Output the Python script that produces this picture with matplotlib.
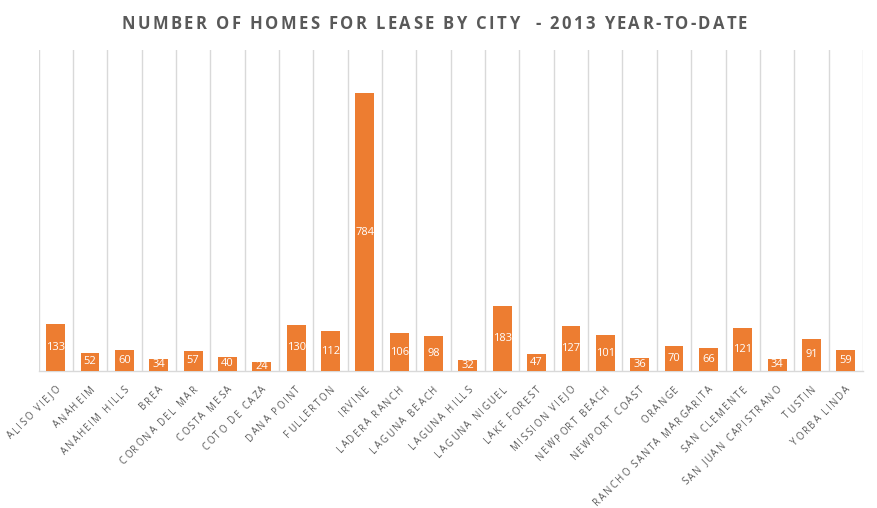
import matplotlib
matplotlib.use("Agg")
import matplotlib.pyplot as plt
import numpy as np

# Data
cities = ["ALISO VIEJO", "ANAHEIM", "ANAHEIM HILLS", "BREA", "CORONA DEL MAR",
          "COSTA MESA", "COTO DE CAZA", "DANA POINT", "FULLERTON", "IRVINE",
          "LADERA RANCH", "LAGUNA BEACH", "LAGUNA HILLS", "LAGUNA NIGUEL",
          "LAKE FOREST", "MISSION VIEJO", "NEWPORT BEACH", "NEWPORT COAST",
          "ORANGE", "RANCHO SANTA MARGARITA", "SAN CLEMENTE",
          "SAN JUAN CAPISTRANO", "TUSTIN", "YORBA LINDA"]
homes = [133, 52, 60, 34, 57, 40, 24, 130, 112, 784, 106, 98, 32, 183,
         47, 127, 101, 36, 70, 66, 121, 34, 91, 59]

title = "NUMBER OF HOMES FOR LEASE BY CITY  - 2013 YEAR-TO-DATE"

bar_color = "#ED7D31"
grid_color = "#D9D9D9"
text_gray = "#595959"

W, H = 877, 508
fig = plt.figure(figsize=(W / 100, H / 100), dpi=100)
ax = fig.add_axes([0.0439, 0.2697, 0.9401, 0.6319])
renderer = fig.canvas.get_renderer()

x = np.arange(len(cities))
ax.bar(x, homes, width=0.55, color=bar_color, zorder=3)

ax.set_xlim(-0.5, len(cities) - 0.5)
ax.set_ylim(0, 906)

# vertical gridlines between categories
for b in np.arange(-0.5, len(cities), 1.0):
    ax.axvline(b, color=grid_color, linewidth=1, zorder=1)

for s in ["top", "left", "right"]:
    ax.spines[s].set_visible(False)
ax.spines["bottom"].set_color(grid_color)
ax.spines["bottom"].set_linewidth(1)
ax.set_yticks([])
ax.set_xticks(x)
ax.set_xticklabels([])
ax.tick_params(axis="x", length=0)


def prefix_widths(s, **kw):
    # width (px) of each prefix s[:i], measured with a bar so trailing spaces count
    bar = fig.text(0, 0, "|", **kw)
    wbar = bar.get_window_extent(renderer).width
    bar.remove()
    out = []
    for i in range(len(s) + 1):
        t = fig.text(0, 0, s[:i] + "|", **kw)
        out.append(t.get_window_extent(renderer).width - wbar)
        t.remove()
    return out


def spaced_text(s, end_px, angle, spacing, **kw):
    # letter-spaced text whose baseline ends at end_px (display coords)
    pw = prefix_widths(s, **kw)
    total = pw[-1] + spacing * (len(s) - 1)
    u = np.array([np.cos(np.radians(angle)), np.sin(np.radians(angle))])
    start = np.array(end_px) - total * u
    for i, ch in enumerate(s):
        if ch == " ":
            continue
        p = start + (pw[i] + spacing * i) * u
        fig.text(p[0] / W, p[1] / H, ch, rotation=angle, rotation_mode="anchor",
                 ha="left", va="baseline", **kw)
    return total


# rotated, letter-spaced city labels
label_kw = dict(fontsize=7, color=text_gray, family="Open Sans")
for xi, name in zip(x, cities):
    tx, ty = ax.transData.transform((xi, 0))
    spaced_text(name, (tx + 5, ty - 19), 45, 1.6, **label_kw)

# value labels centred inside each bar
for xi, v in zip(x, homes):
    ax.text(xi, v / 2, str(v), ha="center", va="center", color="white",
            fontsize=8, family="Open Sans", zorder=4)

# letter-spaced title
title_kw = dict(fontsize=12, fontweight="bold", color=text_gray, family="Open Sans")
pw = prefix_widths(title, **title_kw)
sp = 2.4
tw = pw[-1] + sp * (len(title) - 1)
spaced_text(title, (434 + tw / 2, H - 29), 0, sp, **title_kw)

fig.savefig("out.png", dpi=100)
